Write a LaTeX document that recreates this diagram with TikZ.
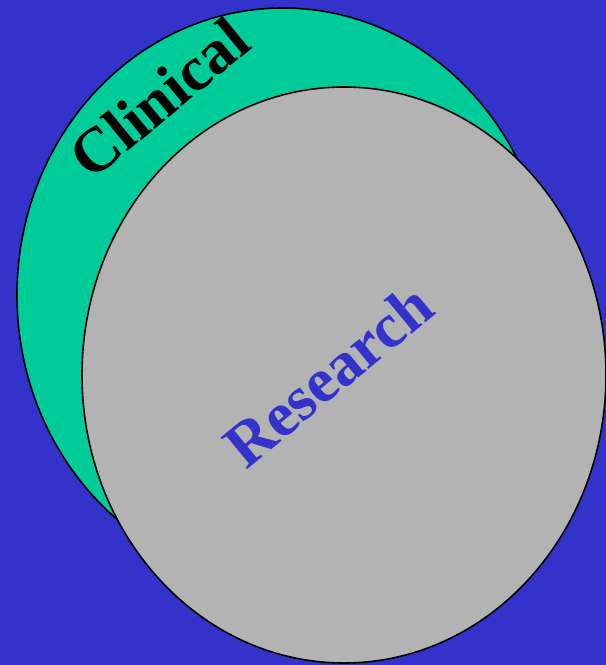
\documentclass[tikz,border=0pt]{standalone}
\usepackage{fontspec}
\setmainfont{Liberation Serif}
\definecolor{bgblue}{HTML}{3333CC}
\definecolor{cgreen}{HTML}{00CC99}
\definecolor{rgray}{HTML}{B3B3B3}
\begin{document}
\begin{tikzpicture}[x=1pt,y=-1pt,
  blob/.style={draw=black,line width=1.6pt},
  lbl/.style={font=\fontsize{63}{68}\selectfont\bfseries,inner sep=0pt,rotate=39.5}]
\useasboundingbox[fill=bgblue] (0,0) rectangle (606,665);
\path[blob,fill=cgreen] (283,295) ellipse [x radius=266,y radius=287];
\path[blob,fill=rgray] (344,375) ellipse [x radius=262,y radius=288];
\node[lbl,text=black] (clin) at (159,98) {Clinical};
\node[lbl,text=bgblue] (res) at (328,375) {Research};
\end{tikzpicture}
\end{document}
